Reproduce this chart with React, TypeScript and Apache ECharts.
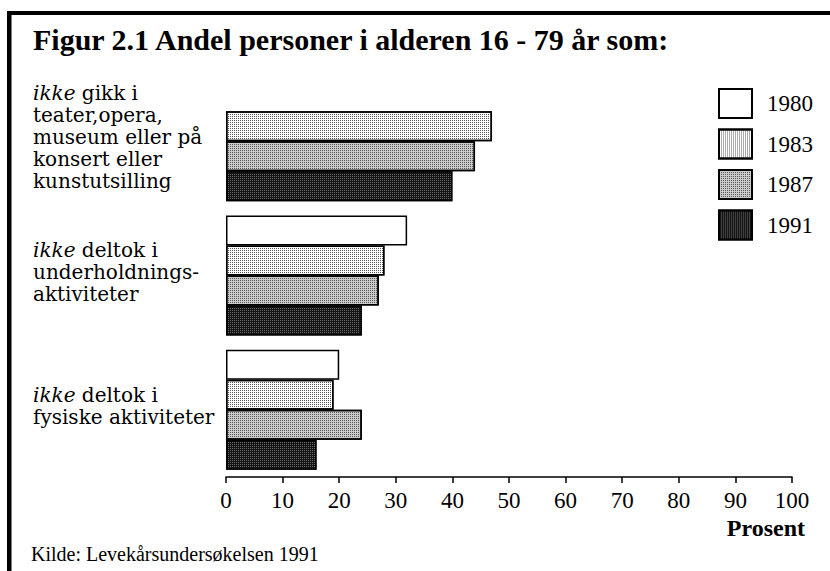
import React, { useEffect, useRef } from "react";
import * as echarts from "echarts";

const TITLE = "Figur 2.1 Andel personer i alderen 16 - 79 år som:";
const SOURCE = "Kilde: Levekårsundersøkelsen 1991";
const AXIS_NAME = "Prosent";

const categories = [
  "ikke gikk i teater,opera, museum eller på konsert eller kunstutsilling",
  "ikke deltok i underholdningsaktiviteter",
  "ikke deltok i fysiske aktiviteter",
];
const categoryLabels = [
  "{i|ikke} gikk i\nteater,opera,\nmuseum eller på\nkonsert eller\nkunstutsilling",
  "{i|ikke} deltok i\nunderholdnings-\naktiviteter",
  "{i|ikke} deltok i\nfysiske aktiviteter",
];
const years = ["1980", "1983", "1987", "1991"];
const v1980 = [null, 32, 20];
const v1983 = [47, 28, 19];
const v1987 = [44, 27, 24];
const v1991 = [40, 24, 16];
const xTicks = { min: 0, max: 100, step: 10 };

const SERIF = "'Liberation Serif', 'Times New Roman', serif";
const LABEL_FONT = "'DejaVu Serif', serif";

export default function App() {
  const ref = useRef<HTMLDivElement>(null);
  useEffect(() => {
    document.body.style.margin = "0";
    const chart = echarts.init(ref.current!, null, { renderer: "svg" });
    const barBase = {
      type: "bar",
      barWidth: 30,
      barGap: "0%",
    };
    const styles = [
      { color: "#ffffff" },
      { color: "#ffffff", decal: { symbol: "rect", symbolSize: 1, dashArrayX: [1, 1], dashArrayY: [1, 1], color: "#555555" } },
      { color: "#cccccc", decal: { symbol: "rect", symbolSize: 1, dashArrayX: [1, 1], dashArrayY: [1, 1], color: "#555555" } },
      { color: "#141414", decal: { symbol: "rect", symbolSize: 1, dashArrayX: [1, 1], dashArrayY: [1, 1], color: "#6a6a6a" } },
    ];
    const values = [v1980, v1983, v1987, v1991];
    chart.setOption({
      animation: false,
      backgroundColor: "#ffffff",
      title: {
        text: TITLE,
        left: 33,
        top: 24,
        padding: 0,
        textStyle: { fontFamily: SERIF, fontWeight: "bold", fontSize: 30, color: "#000" },
      },
      legend: {
        data: years,
        orient: "vertical",
        left: 718,
        top: 88,
        padding: 0,
        icon: "rect",
        itemWidth: 33,
        itemHeight: 29,
        itemGap: 9.5,
        textStyle: { fontFamily: SERIF, fontSize: 23, color: "#000", padding: [0, 0, 0, 10] },
      },
      grid: { left: 226, right: 38, top: 74, bottom: 94 },
      xAxis: {
        type: "value",
        min: xTicks.min,
        max: xTicks.max,
        interval: xTicks.step,
        splitLine: { show: false },
        axisLine: { show: true, lineStyle: { color: "#000", width: 1.5 } },
        axisTick: { show: true, length: 6, lineStyle: { color: "#000", width: 1.5 } },
        axisLabel: { fontFamily: SERIF, fontSize: 23, color: "#000", margin: 12 },
        name: AXIS_NAME,
        nameLocation: "end",
        nameGap: 13,
        nameTextStyle: {
          fontFamily: SERIF,
          fontWeight: "bold",
          fontSize: 24,
          color: "#000",
          align: "right",
          verticalAlign: "top",
          padding: [39, 0, 0, 0],
        },
      },
      yAxis: {
        type: "category",
        data: categories,
        inverse: true,
        axisLine: { show: false },
        axisTick: { show: false },
        axisLabel: {
          interval: 0,
          align: "left",
          margin: 193,
          fontFamily: LABEL_FONT,
          fontSize: 20,
          lineHeight: 22,
          color: "#000",
          padding: [0, 0, 8, 0],
          formatter: (_v: string, i: number) => categoryLabels[i],
          rich: {
            i: { fontFamily: LABEL_FONT, fontSize: 20, lineHeight: 22, fontStyle: "italic", color: "#000" },
          },
        },
      },
      series: years.map((y, k) => ({
        ...barBase,
        name: y,
        data: values[k],
        itemStyle: { ...styles[k], borderColor: "#000", borderWidth: 1.5 },
      })),
      graphic: [
        { type: "rect", shape: { x: 7, y: 11, width: 830, height: 4 }, style: { fill: "#000" } },
        { type: "rect", shape: { x: 7, y: 11, width: 4.5, height: 570 }, style: { fill: "#000" } },
        {
          type: "text",
          left: 31,
          top: 544,
          style: { text: SOURCE, font: `20px ${SERIF}`, fill: "#000" },
        },
      ],
    });
    return () => chart.dispose();
  }, []);
  return <div ref={ref} style={{ position: "fixed", left: 0, top: 0, width: 830, height: 571 }} />;
}
